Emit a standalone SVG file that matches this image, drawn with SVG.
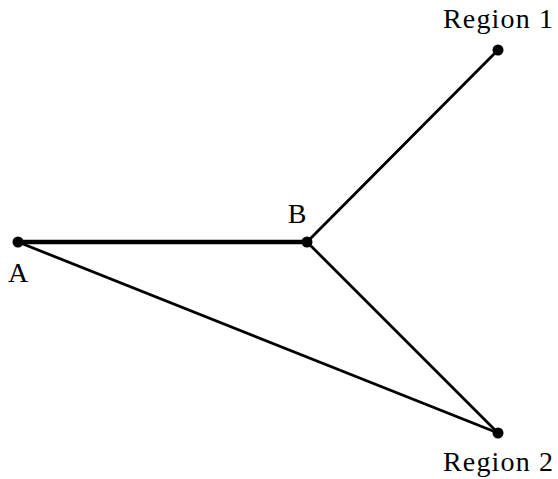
<svg xmlns="http://www.w3.org/2000/svg" width="558" height="479" viewBox="0 0 558 479">
<style>
.lbl{font-family:"Liberation Serif","DejaVu Serif",serif;font-size:28px;fill:#000}
.e{stroke:#000;stroke-width:2.8;fill:none;stroke-linecap:round}
.thick{stroke-width:4.5}
.dot{fill:#000}
</style>
<rect width="558" height="479" fill="#fff"/>
<g id="connectors">
<line class="e thick" x1="18" y1="242" x2="307" y2="242"/>
<line class="e" x1="307" y1="242" x2="498" y2="50"/>
<line class="e" x1="307" y1="242" x2="498" y2="433"/>
<line class="e" x1="18" y1="242" x2="498" y2="433"/>
</g>
<g id="A"><circle class="dot" cx="18" cy="242" r="5.5"/><text class="lbl" x="18" y="282" text-anchor="middle">A</text></g>
<g id="B"><circle class="dot" cx="307" cy="242" r="5.5"/><text class="lbl" x="297" y="223" text-anchor="middle">B</text></g>
<g id="Region1"><circle class="dot" cx="498" cy="50" r="5.5"/><text class="lbl" x="443" y="28" textLength="110" lengthAdjust="spacing">Region 1</text></g>
<g id="Region2"><circle class="dot" cx="498" cy="433" r="5.5"/><text class="lbl" x="443" y="471" textLength="110" lengthAdjust="spacing">Region 2</text></g>
</svg>
